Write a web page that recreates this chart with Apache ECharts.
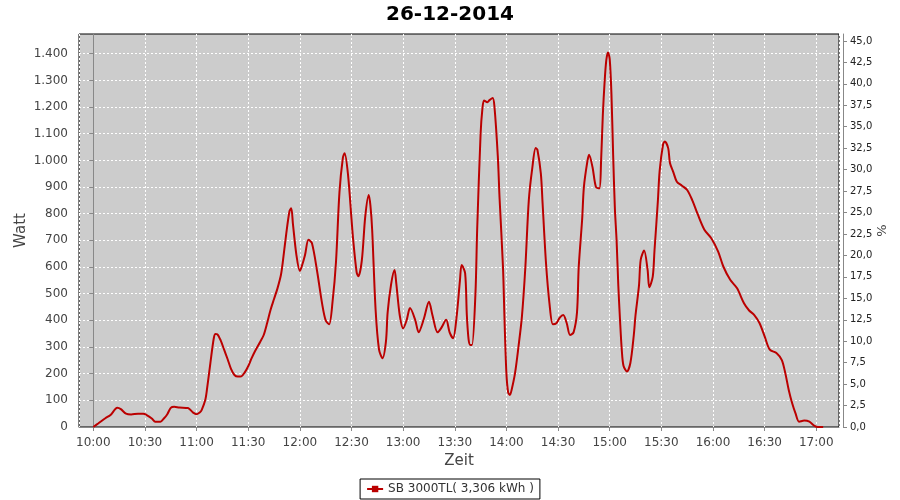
<!DOCTYPE html>
<html>
<head>
<meta charset="utf-8">
<title>26-12-2014</title>
<script src="https://cdn.jsdelivr.net/npm/echarts@6/dist/echarts.min.js"></script>
<style>
    html, body { margin: 0; padding: 0; background: #fff; }
    #chart { width: 900px; height: 500px; }
</style>
</head>
<body>
<div id="chart"></div>
<script>
    var zeit = [
        '10:00', '10:03', '10:07', '10:10', '10:14', '10:16', '10:19', '10:22', '10:26', '10:29',
        '10:31', '10:34', '10:36', '10:39', '10:41', '10:43', '10:45', '10:47', '10:50', '10:55',
        '10:58', '11:00', '11:02', '11:03', '11:05', '11:06', '11:08', '11:10', '11:11', '11:12',
        '11:14', '11:16', '11:18', '11:20', '11:22', '11:24', '11:26', '11:28', '11:30', '11:32',
        '11:34', '11:37', '11:39', '11:41', '11:43', '11:45', '11:47', '11:49', '11:50', '11:52',
        '11:54', '11:55', '11:56', '11:58', '12:00', '12:01', '12:03', '12:05', '12:07', '12:10',
        '12:13', '12:15', '12:17', '12:19', '12:21', '12:23', '12:25', '12:26', '12:28', '12:30',
        '12:31', '12:33', '12:34', '12:36', '12:38', '12:40', '12:41', '12:42', '12:44', '12:46',
        '12:48', '12:50', '12:51', '12:53', '12:55', '12:56', '12:58', '13:00', '13:02', '13:04',
        '13:07', '13:09', '13:12', '13:15', '13:17', '13:20', '13:22', '13:25', '13:27', '13:29',
        '13:31', '13:33', '13:34', '13:36', '13:37', '13:38', '13:39', '13:40', '13:42', '13:43',
        '13:45', '13:46', '13:47', '13:49', '13:50', '13:52', '13:53', '13:55', '13:56', '13:58',
        '13:59', '14:00', '14:01', '14:02', '14:03', '14:05', '14:07', '14:09', '14:11', '14:13',
        '14:15', '14:17', '14:18', '14:20', '14:21', '14:23', '14:25', '14:27', '14:29', '14:31',
        '14:33', '14:35', '14:37', '14:39', '14:41', '14:42', '14:44', '14:45', '14:47', '14:48',
        '14:50', '14:52', '14:54', '14:55', '14:56', '14:57', '14:58', '14:59', '15:00', '15:01',
        '15:02', '15:03', '15:04', '15:05', '15:06', '15:07', '15:08', '15:10', '15:12', '15:14',
        '15:15', '15:17', '15:18', '15:20', '15:22', '15:23', '15:25', '15:26', '15:28', '15:29',
        '15:31', '15:32', '15:34', '15:35', '15:37', '15:39', '15:42', '15:45', '15:48', '15:51',
        '15:55', '15:59', '16:03', '16:06', '16:10', '16:14', '16:18', '16:21', '16:24', '16:27',
        '16:30', '16:33', '16:37', '16:40', '16:42', '16:44', '16:46', '16:48', '16:50', '16:53',
        '16:56', '16:59', '17:01', '17:04'
    ];
    var watt = [
        0, 14, 33, 45, 72, 67, 50, 47, 50, 50,
        45, 32, 20, 20, 32, 48, 72, 76, 73, 71,
        54, 48, 55, 64, 100, 139, 239, 333, 349, 348,
        325, 290, 255, 218, 195, 189, 190, 205, 228, 258,
        285, 320, 345, 390, 440, 480, 520, 570, 614, 720,
        810, 820, 760, 645, 585, 600, 645, 702, 690, 585,
        460, 400, 385, 470, 620, 880, 1010, 1027, 945, 780,
        700, 580, 565, 625, 790, 870, 830, 740, 440, 290,
        258, 320, 430, 535, 589, 540, 420, 370, 400, 446,
        402, 355, 405, 470, 420, 355, 370, 402, 355, 333,
        410, 550, 608, 577, 420, 330, 308, 308, 500, 740,
        1100, 1190, 1225, 1218, 1225, 1234, 1205, 1015, 860, 600,
        380, 200, 130, 120, 139, 202, 301, 414, 600, 850,
        970, 1046, 1040, 950, 840, 614, 464, 385, 389, 410,
        420, 390, 345, 355, 430, 600, 780, 900, 995, 1021,
        975, 900, 895, 1000, 1170, 1290, 1375, 1405, 1380, 1250,
        1020, 820, 700, 530, 400, 290, 230, 208, 240, 345,
        420, 530, 627, 662, 590, 524, 564, 660, 850, 960,
        1060, 1071, 1045, 990, 955, 920, 905, 889, 850, 800,
        740, 708, 658, 602, 552, 520, 464, 437, 420, 390,
        340, 290, 277, 251, 202, 139, 89, 50, 20, 24,
        20, 4, 0, 0
    ];
    var wattTicks = [0, 100, 200, 300, 400, 500, 600, 700, 800, 900, 1000, 1100, 1200, 1300, 1400];
    var prozentTicks = [0, 2.5, 5, 7.5, 10, 12.5, 15, 17.5, 20, 22.5, 25, 27.5, 30, 32.5,
        35, 37.5, 40, 42.5, 45];
    var serienName = 'SB 3000TL( 3,306 kWh )';

    // minuten seit 10:00
    function minuten(s) {
        var p = s.split(':');
        return (parseInt(p[0], 10) - 10) * 60 + parseInt(p[1], 10);
    }
    function uhrzeit(m) {
        var h = 10 + Math.floor(m / 60);
        var mm = Math.round(m % 60);
        return (h < 10 ? '0' : '') + h + ':' + (mm < 10 ? '0' : '') + mm;
    }

    var punkte = zeit.map(function (z, i) { return [minuten(z), watt[i]]; });

    var font = 'DejaVu Sans';
    var wattMax = 1474;
    var prozentMax = 45.81;
    var gitterStil = { color: '#fff', type: [2, 2], width: 1 };

    let chart = echarts.init(document.getElementById('chart'));
    let option = {
        animation: false,
        textStyle: { fontFamily: font },
        title: {
            text: '26-12-2014',
            left: 'center',
            top: 0,
            textStyle: { fontFamily: font, fontSize: 20, fontWeight: 'bold', color: '#000' }
        },
        legend: {
            bottom: 1,
            left: 'center',
            data: [serienName],
            backgroundColor: '#fff',
            borderColor: '#000',
            borderWidth: 1,
            borderRadius: 0,
            padding: [4, 6],
            itemWidth: 16,
            itemHeight: 8,
            itemGap: 5,
            textStyle: { fontFamily: font, fontSize: 12, color: '#333' }
        },
        grid: {
            left: 79,
            right: 61,
            top: 34,
            bottom: 73,
            show: true,
            backgroundColor: '#cccccc',
            borderColor: '#000',
            borderWidth: 1,
            outerBoundsMode: 'none'
        },
        xAxis: {
            type: 'value',
            min: -8.3,
            max: 433.2,
            // ohne interval: splitNumber 15 ergibt 30-Minuten-Schritte ab 10:00
            splitNumber: 15,
            offset: 5,
            name: 'Zeit',
            nameLocation: 'middle',
            nameGap: 22,
            nameMoveOverlap: false,
            nameTextStyle: { fontFamily: font, fontSize: 15, color: '#444', verticalAlign: 'top' },
            axisLine: { show: true, lineStyle: { color: '#888', width: 1 } },
            axisTick: { show: true, length: 4, lineStyle: { color: '#888' } },
            axisLabel: {
                fontFamily: font, fontSize: 12, color: '#444', margin: 5,
                showMinLabel: false,
                showMaxLabel: false,
                formatter: function (v) { return uhrzeit(v); }
            },
            splitLine: { show: true, lineStyle: gitterStil }
        },
        yAxis: [
            {
                type: 'value',
                position: 'left',
                min: 0,
                max: wattMax,
                interval: 100,
                offset: 4,
                name: 'Watt',
                nameLocation: 'middle',
                nameGap: 46,
                nameRotate: 90,
                nameMoveOverlap: false,
                nameTextStyle: { fontFamily: font, fontSize: 15, color: '#444' },
                axisLine: { show: true, lineStyle: { color: '#888', width: 1 } },
                axisTick: { show: true, length: 4, lineStyle: { color: '#888' }, customValues: wattTicks },
                axisLabel: {
                    fontFamily: font, fontSize: 12, color: '#444', margin: 7,
                    customValues: wattTicks,
                    formatter: function (v) { return v >= 1000 ? Math.floor(v / 1000) + '.' + String(v % 1000).padStart(3, '0') : String(v); }
                },
                splitLine: { show: true, lineStyle: gitterStil }
            },
            {
                type: 'value',
                position: 'right',
                min: 0,
                max: prozentMax,
                offset: 4,
                name: '%',
                nameLocation: 'middle',
                nameGap: 33,
                nameRotate: 90,
                nameMoveOverlap: false,
                nameTextStyle: { fontFamily: font, fontSize: 13, color: '#444' },
                axisLine: { show: true, lineStyle: { color: '#888', width: 1 } },
                axisTick: { show: true, length: 4, lineStyle: { color: '#888' }, customValues: prozentTicks },
                axisLabel: {
                    fontFamily: font, fontSize: 10, color: '#222', margin: 7,
                    customValues: prozentTicks,
                    formatter: function (v) { return v.toFixed(1).replace('.', ','); }
                },
                splitLine: { show: false }
            }
        ],
        series: [
            {
                name: serienName,
                type: 'line',
                z: 3,
                yAxisIndex: 0,
                smooth: 0.3,
                symbol: 'rect',
                symbolSize: 4,
                showSymbol: false,
                itemStyle: { color: '#bb0000' },
                lineStyle: { color: '#bb0000', width: 2 },
                data: punkte
            }
        ]
    };
    chart.setOption(option);
</script>
</body>
</html>
